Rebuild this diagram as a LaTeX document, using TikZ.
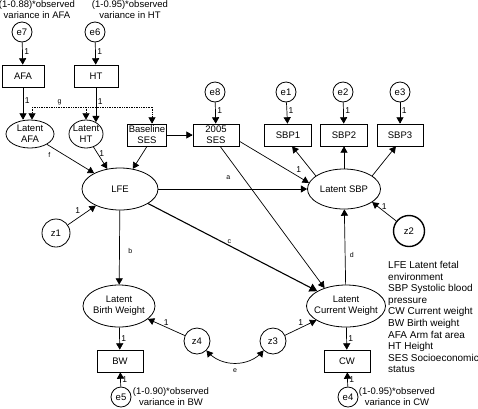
\documentclass[tikz,border=0pt]{standalone}
\usepackage{fontspec}
\setmainfont{Liberation Sans}
\usetikzlibrary{shapes.geometric}
\usetikzlibrary{arrows}
\tikzset{
  latent/.style={ellipse, draw, line width=0.8pt, inner xsep=-6pt, inner ysep=-1pt, align=center},
  observed/.style={rectangle, draw, line width=0.8pt, inner sep=0pt, minimum height=22pt, align=center},
  residual/.style={circle, draw, line width=0.8pt, inner sep=0pt},
  regress/.style={->, > = triangle 60, line width=0.7pt},
  loading/.style={font=\fontsize{8.5}{8.5}\selectfont, inner sep=1.5pt},
  coeflabel/.style={font=\fontsize{7}{7}\selectfont, inner sep=1.5pt},
  note/.style={align=center, inner sep=0pt},
}

\begin{document}
\begin{tikzpicture}[x=1pt, y=-1pt, font=\fontsize{9.5}{11}\selectfont]
    \useasboundingbox (0,0) rectangle (478,408);

    \node (e7) [residual, minimum size=20pt] at (22,32) {e7};
    \node (e6) [residual, minimum size=20pt] at (95,32) {e6};
    \node (e8) [residual, minimum size=20pt] at (215,92) {e8};
    \node (e1) [residual, minimum size=20pt] at (286,92) {e1};
    \node (e2) [residual, minimum size=20pt] at (343,92) {e2};
    \node (e3) [residual, minimum size=20pt] at (400,92) {e3};
    \node (e5) [residual, minimum size=20pt] at (121,397) {e5};
    \node (e4) [residual, minimum size=20pt] at (348,397) {e4};
    \node (z1) [residual, minimum size=28pt] at (56,233) {z1};
    \node (z2) [residual, minimum size=31pt, line width=1.4pt] at (409,231) {z2};
    \node (z4) [residual, minimum size=26pt] at (197,341) {z4};
    \node (z3) [residual, minimum size=26pt] at (273,341) {z3};

    \node (afa) [observed, minimum width=42pt] at (23,76) {AFA};
    \node (ht) [observed, minimum width=44pt] at (96,76) {HT};
    \node (baseline ses) [observed, minimum width=39pt] at (147,135) {Baseline\\SES};
    \node (2005 ses) [observed, minimum width=46pt] at (216,135) {2005\\SES};
    \node (sbp1) [observed, minimum width=47pt] at (288,135) {SBP1};
    \node (sbp2) [observed, minimum width=47pt] at (344,135) {SBP2};
    \node (sbp3) [observed, minimum width=46pt] at (400,135) {SBP3};
    \node (bw) [observed, minimum width=46pt] at (120,361) {BW};
    \node (cw) [observed, minimum width=46pt] at (347,361) {CW};

    \node (latent afa) [latent, minimum width=48pt, minimum height=28pt] at (30,134) {Latent\\AFA};
    \node (latent ht) [latent, minimum width=34pt, minimum height=28pt] at (86,134) {Latent\\HT};
    \node (lfe) [latent, minimum width=76pt, minimum height=42pt] at (120,189) {LFE};
    \node (latent sbp) [latent, minimum width=73pt, minimum height=40pt] at (344,189) {Latent SBP};
    \node (latent bw) [latent, minimum width=72pt, minimum height=42pt] at (119,306) {Latent\\Birth Weight};
    \node (latent cw) [latent, minimum width=79pt, minimum height=42pt] at (346,306) {Latent\\Current Weight};

    \node (afa note) [note] at (37,10) {(1-0.88)*observed\\variance in AFA};
    \node (ht note) [note] at (130,10) {(1-0.95)*observed\\variance in HT};
    \node (bw note) [note] at (171,397) {(1-0.90)*observed\\variance in BW};
    \node (cw note) [note] at (397,397) {(1-0.95)*observed\\variance in CW};
    \node (legend) [anchor=north west, align=left, inner sep=0pt, font=\fontsize{10}{11.6}\selectfont] at (388,261)
      {LFE Latent fetal\\environment\\SBP Systolic blood\\pressure\\CW Current weight\\BW Birth weight\\AFA Arm fat area\\HT Height\\SES Socioeconomic\\status};

    \draw[regress] (e7) -- (afa) node[loading, right, pos=0.4] {1};
    \draw[regress] (e6) -- (ht) node[loading, right, pos=0.4] {1};
    \draw[regress] (e8) -- (2005 ses) node[loading, right, pos=0.4] {1};
    \draw[regress] (e1) -- (sbp1) node[loading, right, pos=0.4] {1};
    \draw[regress] (e2) -- (sbp2) node[loading, right, pos=0.4] {1};
    \draw[regress] (e3) -- (sbp3) node[loading, right, pos=0.4] {1};
    \draw[regress] (afa.south) -- (afa.south |- latent afa.north) node[loading, right, pos=0.4] {1};
    \draw[regress] (ht.south -| latent ht.50) -- (latent ht.50) node[loading, right, pos=0.4] {1};

    \coordinate (g left) at (32,107);
    \coordinate (g right) at (152,107);
    \draw[densely dotted, line width=0.7pt] (g left) -- (g right) node[coeflabel, above, pos=0.23] {g};
    \draw[regress, densely dotted] (g left) -- (g left |- latent afa.north);
    \draw[regress, densely dotted] (g left -| latent ht.north) -- (latent ht.north);
    \draw[regress, densely dotted] (g right) -- (g right |- baseline ses.north);

    \draw[regress] (latent afa) -- (lfe) node[coeflabel, below=5pt, pos=0.05] {f};
    \draw[regress] (latent ht.-60) -- (lfe) node[loading, right, pos=0.3] {1};
    \draw[regress] (baseline ses.south) -- (lfe);
    \draw[regress] (baseline ses) -- (2005 ses);
    \draw[regress] (2005 ses.-15) -- (latent sbp.170);
    \draw[regress] (2005 ses.-70) -- (latent cw.140);
    \draw[regress] (lfe) -- (latent sbp) node[coeflabel, above=8pt, pos=0.47] {a};
    \draw[regress] (z1) -- (lfe) node[loading, above left, pos=0.5] {1};
    \draw[regress] (lfe) -- (latent bw) node[coeflabel, right=7pt, pos=0.55] {b};
    \draw[regress, line width=1.1pt] (lfe) -- (latent cw) node[coeflabel, above, pos=0.48] {c};

    \draw[regress] (latent sbp.155) -- (sbp1.-70) node[loading, left=8pt, pos=0.2] {1};
    \draw[regress] (latent sbp) -- (sbp2);
    \draw[regress] (latent sbp.25) -- (sbp3.-110);
    \draw[regress] (z2) -- (latent sbp.-25) node[loading, above, pos=0.5] {1};
    \draw[regress] (latent cw) -- (latent sbp) node[coeflabel, right=3pt, pos=0.39] {d};

    \draw[regress] (z4) -- (latent bw) node[loading, above, pos=0.5] {1};
    \draw[regress] (z3) -- (latent cw) node[loading, above, pos=0.5] {1};
    \draw[regress] (latent bw) -- (bw) node[loading, right, pos=0.5] {1};
    \draw[regress] (latent cw) -- (cw) node[loading, right, pos=0.5] {1};
    \draw[regress] (e5) -- (bw) node[loading, right, pos=0.5] {1};
    \draw[regress] (e4) -- (cw) node[loading, right, pos=0.5] {1};
    \draw[<->, > = triangle 60, line width=0.7pt] (z4.-45) to[out=-50, in=-130] node[coeflabel, below=4pt] {e} (z3.-135);
\end{tikzpicture}
\end{document}
